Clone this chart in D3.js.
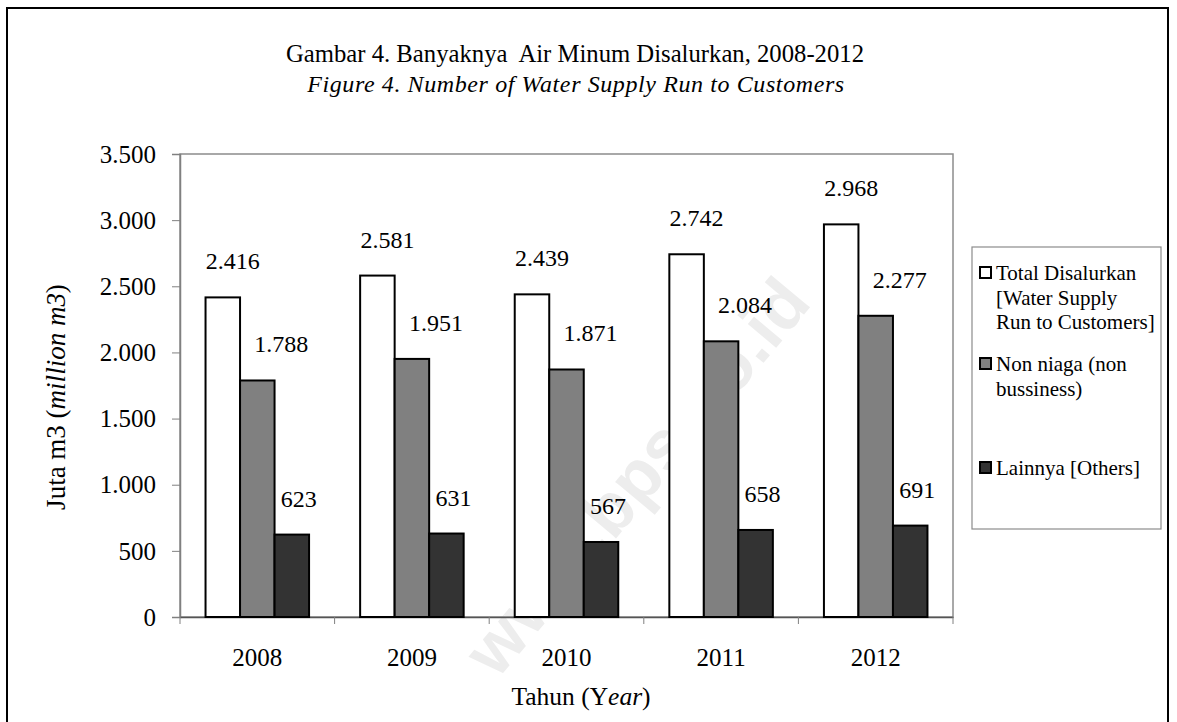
<!DOCTYPE html>
<html>
<head>
<meta charset="utf-8">
<script src="https://cdn.jsdelivr.net/npm/d3@7"></script>
<style>
  body { margin: 0; background: #fff; }
  text { font-family: "Liberation Serif", "Times New Roman", serif; fill: #000; }
</style>
</head>
<body>
<svg id="chart" width="1177" height="722"></svg>
<script>
const width = 1177
const height = 722

// data
const years = ['2008', '2009', '2010', '2011', '2012']
const seriesKeys = ['total', 'nonNiaga', 'lainnya']
const totalDisalurkan = [2416, 2581, 2439, 2742, 2968]
const nonNiaga = [1788, 1951, 1871, 2084, 2277]
const lainnya = [623, 631, 567, 658, 691]
const yTicks = [0, 500, 1000, 1500, 2000, 2500, 3000, 3500]
const legendLines = [
    ['Total Disalurkan', '[Water Supply', 'Run to Customers]'],
    ['Non niaga (non', 'bussiness)'],
    ['Lainnya [Others]']
]

const seriesValues = { total: totalDisalurkan, nonNiaga: nonNiaga, lainnya: lainnya }
const fills = { total: '#ffffff', nonNiaga: '#808080', lainnya: '#333333' }
// labels sit a bit to the right of their bar, like in the original
const labelDx = { total: 10, nonNiaga: 24, lainnya: 7 }

const margin = { left: 180, top: 154, right: 224, bottom: 105 }

const fmt = d => d3.format(',')(d).replace(/,/g, '.')

const svg = d3.select('#chart')

// outer frame
svg.append('rect')
    .attr('x', 7).attr('y', 8)
    .attr('width', 1161).attr('height', 730)
    .attr('fill', 'none')
    .attr('stroke', '#000')
    .attr('stroke-width', 2)

// watermark
svg.append('text')
    .attr('transform', 'translate(655,492) rotate(-50)')
    .attr('text-anchor', 'middle')
    .style('font-family', '"Liberation Sans", Arial, sans-serif')
    .style('font-weight', 'bold')
    .style('font-size', '70px')
    .style('fill', '#ededed')
    .text('www.bps.go.id')

const x = d3.scaleBand()
    .domain(years)
    .range([margin.left, width - margin.right])

const xInner = d3.scaleBand()
    .domain(seriesKeys)
    .range([0, x.bandwidth()])
    .paddingOuter(0.74)

const y = d3.scaleLinear()
    .domain([0, 3500])
    .range([height - margin.bottom, margin.top])

// plot frame (top/right)
svg.append('rect')
    .attr('x', margin.left).attr('y', margin.top)
    .attr('width', width - margin.right - margin.left)
    .attr('height', height - margin.bottom - margin.top)
    .attr('fill', 'none')
    .attr('stroke', '#8c8c8c')
    .attr('stroke-width', 1.5)

// y axis
const yAxis = g => g
    .attr('transform', `translate(${margin.left},0)`)
    .call(d3.axisLeft(y).tickValues(yTicks).tickSize(8).tickPadding(16).tickFormat(fmt))
    .call(g => g.select('.domain').attr('stroke', '#808080').attr('stroke-width', 1.5))
    .call(g => g.selectAll('.tick line').attr('stroke', '#808080'))
    .call(g => g.selectAll('.tick text').style('font-size', '25px').attr('dy', '0.33em'))

svg.append('g').call(yAxis)

// x axis: ticks between categories
const xAxis = g => g
    .attr('transform', `translate(0,${height - margin.bottom})`)
    .call(d3.axisBottom(x).tickSize(0).tickPadding(31))
    .call(g => g.select('.domain').attr('stroke', '#555').attr('stroke-width', 1.5))
    .call(g => g.selectAll('.tick text').style('font-size', '25px').attr('dy', '0.71em'))
    .call(g => g.selectAll('.sep')
        .data(years.concat(['end']))
        .join('line')
        .attr('class', 'sep')
        .attr('x1', (d, i) => i < years.length ? x(d) : x(years[years.length - 1]) + x.bandwidth())
        .attr('x2', (d, i) => i < years.length ? x(d) : x(years[years.length - 1]) + x.bandwidth())
        .attr('y1', 0).attr('y2', 7)
        .attr('stroke', '#808080'))

svg.append('g').call(xAxis)

// bars
const groups = svg.append('g')
    .selectAll('g')
    .data(years)
    .join('g')
    .attr('transform', d => `translate(${x(d)},0)`)

groups.selectAll('rect')
    .data((d, i) => seriesKeys.map(k => ({ key: k, value: seriesValues[k][i] })))
    .join('rect')
    .attr('x', d => xInner(d.key))
    .attr('y', d => y(d.value))
    .attr('width', xInner.bandwidth())
    .attr('height', d => y(0) - y(d.value))
    .attr('fill', d => fills[d.key])
    .attr('stroke', '#000')
    .attr('stroke-width', 2)

groups.selectAll('text.val')
    .data((d, i) => seriesKeys.map(k => ({ key: k, value: seriesValues[k][i] })))
    .join('text')
    .attr('class', 'val')
    .attr('x', d => xInner(d.key) + xInner.bandwidth() / 2 + labelDx[d.key])
    .attr('y', d => y(d.value) - 28)
    .attr('text-anchor', 'middle')
    .style('font-size', '24px')
    .text(d => fmt(d.value))

// titles
svg.append('text')
    .attr('x', 575).attr('y', 62)
    .attr('text-anchor', 'middle')
    .style('font-size', '24.7px')
    .style('white-space', 'pre')
    .text('Gambar 4. Banyaknya  Air Minum Disalurkan, 2008-2012')

svg.append('text')
    .attr('x', 576).attr('y', 92)
    .attr('text-anchor', 'middle')
    .style('font-size', '24px')
    .style('letter-spacing', '0.6px')
    .style('font-style', 'italic')
    .text('Figure 4. Number of Water Supply Run to Customers')

// axis titles
const yTitle = svg.append('text')
    .attr('transform', 'translate(65,397) rotate(-90)')
    .attr('text-anchor', 'middle')
    .style('font-size', '27px')
yTitle.append('tspan').text('Juta m3 (')
yTitle.append('tspan').style('font-style', 'italic').text('million m3')
yTitle.append('tspan').text(')')

const xTitle = svg.append('text')
    .attr('x', 581).attr('y', 705)
    .attr('text-anchor', 'middle')
    .style('font-size', '25.5px')
xTitle.append('tspan').text('Tahun (Y')
xTitle.append('tspan').style('font-style', 'italic').text('ear')
xTitle.append('tspan').text(')')

// legend
const legend = svg.append('g').attr('transform', 'translate(972,247)')
legend.append('rect')
    .attr('width', 189).attr('height', 282)
    .attr('fill', '#fff')
    .attr('stroke', '#8c8c8c')
    .attr('stroke-width', 1.2)

const legendTop = [33, 124, 228]
const items = legend.selectAll('g.item')
    .data(seriesKeys)
    .join('g')
    .attr('class', 'item')
    .attr('transform', (d, i) => `translate(0,${legendTop[i]})`)

items.append('rect')
    .attr('x', 8).attr('y', -13)
    .attr('width', 11).attr('height', 11)
    .attr('fill', d => fills[d])
    .attr('stroke', '#000')
    .attr('stroke-width', 2)

items.append('text')
    .style('font-size', '21px')
    .selectAll('tspan')
    .data((d, i) => legendLines[i])
    .join('tspan')
    .attr('x', 24)
    .attr('dy', (d, i) => i === 0 ? 0 : 24.5)
    .text(d => d)
</script>
</body>
</html>
